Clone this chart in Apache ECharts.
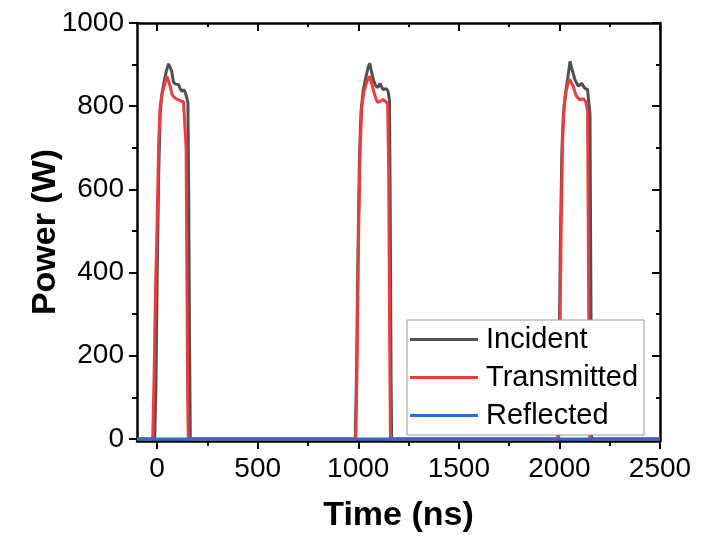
<!DOCTYPE html>
<html>
<head>
<meta charset="utf-8">
<script src="https://cdn.jsdelivr.net/npm/echarts@6/dist/echarts.min.js"></script>
<style>
html,body{margin:0;padding:0;background:#fff;}
#c{width:703px;height:542px;}
</style>
</head>
<body>
<div id="c"></div>
<script>
// ---- data (time in ns, power in W) ----
const incident = [
  [-100,0],[-12,0],[-6,120],[0,380],[8,640],[15,780],[24,830],[35,860],[46,885],[57,902],[65,905],[72,885],[81,858],[92,853],[106,852],[115,842],[123,835],[131,840],[140,834],[148,832],[153,810],[157,600],[161,250],[165,0],
  [985,0],[991,150],[998,430],[1006,680],[1014,790],[1025,840],[1038,870],[1050,895],[1057,903],[1065,885],[1076,862],[1088,848],[1098,845],[1108,855],[1115,852],[1123,840],[1132,838],[1140,842],[1148,836],[1155,815],[1159,550],[1163,150],[1166,0],
  [1992,0],[1998,200],[2005,480],[2012,690],[2019,775],[2030,830],[2042,870],[2053,908],[2062,890],[2077,864],[2094,848],[2110,855],[2127,843],[2140,840],[2149,838],[2152,780],[2156,400],[2160,0],
  [2500,0]
];
const transmitted = [
  [-100,0],[-22,0],[-15,150],[-8,360],[-2,476],[8,716],[15,800],[25,830],[36,850],[48,872],[57,860],[65,848],[73,830],[81,823],[95,818],[106,815],[120,812],[131,811],[140,808],[144,700],[148,400],[152,100],[155,0],
  [988,0],[994,180],[1001,470],[1009,690],[1017,795],[1028,835],[1042,858],[1057,872],[1068,852],[1080,830],[1090,815],[1098,809],[1110,812],[1123,816],[1135,812],[1146,806],[1151,650],[1156,250],[1160,0],
  [1996,0],[2002,220],[2009,520],[2016,720],[2024,805],[2035,840],[2049,865],[2060,856],[2069,848],[2078,832],[2086,823],[2102,815],[2119,818],[2130,812],[2136,811],[2140,790],[2144,450],[2148,120],[2151,0],
  [2500,0]
];
const reflected = [
  [-100,0],[500,0],[1000,0],[1500,0],[2000,0],[2500,0]
];
const xMajor = [0,500,1000,1500,2000,2500];
const xMinor = [250,750,1250,1750,2250];
const yMajor = [0,200,400,600,800,1000];
const yMinor = [100,300,500,700,900];
const legendNames = ['Incident','Transmitted','Reflected'];

const FONT = '"Liberation Sans", Arial, sans-serif';
const AX = {color:'#000', width:2.5};
const C_INC = '#505050', C_TRA = '#ee3b3b', C_REF = '#1f6fde';
const chart = echarts.init(document.getElementById('c'), null, {renderer:'canvas'});
const plain = v => String(v);

function xAx(pos, ticks, len, inside, showLine, labels, name){
  return {
    type:'value', position:pos, min:-100, max:2500, gridIndex:0,
    axisLine:{show:showLine, onZero:false, lineStyle:AX},
    axisTick:{show:true, inside:inside, length:len, customValues:ticks, lineStyle:{color:'#000', width:2}},
    axisLabel: labels ? {show:true, customValues:labels, formatter:plain, color:'#000', fontSize:28, fontFamily:FONT, margin:14} : {show:false},
    splitLine:{show:false},
    name: name || '', nameLocation:'middle', nameGap:58, nameMoveOverlap:false,
    nameTextStyle:{color:'#000', fontSize:34, fontWeight:'bold', fontFamily:FONT}
  };
}
function yAx(pos, ticks, len, inside, showLine, labels, name){
  return {
    type:'value', position:pos, min:-5, max:1000, gridIndex:0,
    axisLine:{show:showLine, onZero:false, lineStyle:AX},
    axisTick:{show:true, inside:inside, length:len, customValues:ticks, lineStyle:{color:'#000', width:2}},
    axisLabel: labels ? {show:true, customValues:labels, formatter:plain, color:'#000', fontSize:28, fontFamily:FONT, margin:13} : {show:false},
    splitLine:{show:false},
    name: name || '', nameLocation:'middle', nameGap:74, nameMoveOverlap:false,
    nameTextStyle:{color:'#000', fontSize:34, fontWeight:'bold', fontFamily:FONT}
  };
}

const option = {
  backgroundColor:'#fff',
  animation:false,
  grid:{left:137, right:43, top:23, bottom:101, containLabel:false},
  xAxis:[
    xAx('bottom', xMajor, 8, false, true, xMajor, 'Time (ns)'),
    xAx('bottom', xMinor, 5, false, false, null),
    xAx('top', xMajor, 8, true, true, null),
    xAx('top', xMinor, 4, true, false, null)
  ],
  yAxis:[
    yAx('left', yMajor, 8, false, true, yMajor, 'Power (W)'),
    yAx('left', yMinor, 5, false, false, null),
    yAx('right', yMajor, 8, true, true, null),
    yAx('right', yMinor, 4, true, false, null)
  ],
  legend:{
    left:407, top:320, orient:'vertical',
    itemWidth:68, itemHeight:3, itemGap:9,
    padding:[5,6,5,3],
    borderColor:'#9a9a9a', borderWidth:1, backgroundColor:'#fff',
    textStyle:{color:'#000', fontSize:29, fontFamily:FONT, padding:[0,0,0,3]},
    data:legendNames.map(n => ({name:n, icon:'rect'}))
  },
  series:[
    {name:legendNames[0], type:'line', data:incident, showSymbol:false, symbol:'none',
     lineStyle:{color:C_INC, width:3}, itemStyle:{color:C_INC}, z:2},
    {name:legendNames[1], type:'line', data:transmitted, showSymbol:false, symbol:'none',
     lineStyle:{color:C_TRA, width:3}, itemStyle:{color:C_TRA}, z:3},
    {name:legendNames[2], type:'line', data:reflected, showSymbol:false, symbol:'none',
     lineStyle:{color:C_REF, width:3}, itemStyle:{color:C_REF}, z:4}
  ]
};
chart.setOption(option);
</script>
</body>
</html>
